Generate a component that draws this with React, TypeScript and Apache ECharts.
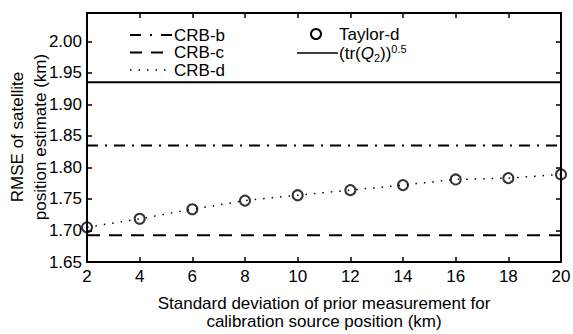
import React, { useEffect, useRef } from "react";
import * as echarts from "echarts";

const xValues = [2, 4, 6, 8, 10, 12, 14, 16, 18, 20];
const taylorD = [1.705, 1.7186, 1.7337, 1.7474, 1.756, 1.764, 1.772, 1.781, 1.783, 1.789];
const crbD = [1.705, 1.7186, 1.7337, 1.7474, 1.756, 1.764, 1.772, 1.781, 1.783, 1.789];
const crbB = 1.835;
const crbC = 1.6925;
const trQ2 = 1.935;

const FONT = "Liberation Sans, Arial, sans-serif";
const FS = 17;

export default function App() {
  const ref = useRef<HTMLDivElement>(null);
  useEffect(() => {
    const chart = echarts.init(ref.current!, null, { renderer: "svg" });
    const x0 = xValues[0];
    const x1 = xValues[xValues.length - 1];
    const flat = (v: number) => [[x0, v], [x1, v]];
    const black = "#000";
    const axisCommon = {
      axisLine: { show: true, lineStyle: { color: black, width: 2 } },
      axisTick: { show: true, inside: true, length: 5, lineStyle: { color: black, width: 1.5 } },
      splitLine: { show: false },
    };
    const legendText = (x: number, y: number, text: string) => ({
      type: "text",
      x,
      y,
      style: { text, font: `${FS}px ${FONT}`, lineHeight: 17, fill: black, textVerticalAlign: "middle" },
    });
    chart.setOption({
      animation: false,
      backgroundColor: "#fff",
      grid: { left: 87, right: 12, top: 13, bottom: 72, outerBoundsMode: "none", containLabel: false },
      xAxis: [
        {
          type: "value",
          min: 2,
          max: 20,
          interval: 2,
          ...axisCommon,
          axisLabel: { color: black, fontSize: FS, fontFamily: FONT, margin: 6 },
          name: "Standard deviation of prior measurement for\ncalibration source position (km)",
          nameLocation: "middle",
          nameGap: 32,
          nameTextStyle: { color: black, fontSize: FS, fontFamily: FONT, lineHeight: 18 },
        },
        {
          type: "value",
          position: "top",
          min: 2,
          max: 20,
          interval: 2,
          ...axisCommon,
          axisLabel: { show: false },
        },
      ],
      yAxis: [
        {
          type: "value",
          min: 1.65,
          max: 2.045,
          interval: 0.05,
          ...axisCommon,
          axisLabel: {
            color: black,
            fontSize: FS,
            fontFamily: FONT,
            margin: 5,
            showMaxLabel: false,
            formatter: (v: number) => v.toFixed(2),
          },
        },
        {
          type: "value",
          position: "right",
          min: 1.65,
          max: 2.045,
          interval: 0.05,
          ...axisCommon,
          axisLabel: { show: false },
        },
      ],
      series: [
        {
          type: "line",
          name: "CRB-b",
          data: flat(crbB),
          symbol: "none",
          lineStyle: { color: black, width: 2, type: [11, 7, 2, 7] },
        },
        {
          type: "line",
          name: "CRB-c",
          data: flat(crbC),
          symbol: "none",
          lineStyle: { color: black, width: 2, type: [13, 9] },
        },
        {
          type: "line",
          name: "CRB-d",
          data: xValues.map((x, i) => [x, crbD[i]]),
          symbol: "none",
          lineStyle: { color: black, width: 1.5, type: [1.5, 7] },
        },
        {
          type: "line",
          name: "(tr(Q2))^0.5",
          data: flat(trQ2),
          symbol: "none",
          lineStyle: { color: black, width: 2, type: "solid" },
        },
        {
          type: "scatter",
          name: "Taylor-d",
          data: xValues.map((x, i) => [x, taylorD[i]]),
          symbol: "circle",
          symbolSize: 10,
          itemStyle: { color: "transparent", borderColor: black, borderWidth: 2 },
          z: 5,
        },
      ],
      graphic: [
        {
          type: "text",
          x: 29,
          y: 137,
          rotation: Math.PI / 2,
          style: {
            text: "RMSE of satellite\nposition estimate (km)",
            font: `${FS}px ${FONT}`,
            lineHeight: 23,
            fill: black,
            textAlign: "center",
            textVerticalAlign: "middle",
          },
        },
        { type: "line", shape: { x1: 130, y1: 35, x2: 172, y2: 35 }, style: { stroke: black, lineWidth: 2, lineDash: [11, 9, 2, 9] } },
        legendText(174, 35, "CRB-b"),
        { type: "line", shape: { x1: 130, y1: 52.5, x2: 172, y2: 52.5 }, style: { stroke: black, lineWidth: 2, lineDash: [12, 9] } },
        legendText(174, 52.5, "CRB-c"),
        { type: "line", shape: { x1: 130, y1: 70, x2: 172, y2: 70 }, style: { stroke: black, lineWidth: 1.5, lineDash: [1.5, 7] } },
        legendText(174, 70, "CRB-d"),
        { type: "circle", shape: { cx: 316, cy: 34, r: 5 }, style: { fill: "none", stroke: black, lineWidth: 2 } },
        legendText(339, 34, "Taylor-d"),
        { type: "line", shape: { x1: 297, y1: 53, x2: 338, y2: 53 }, style: { stroke: black, lineWidth: 1.5 } },
        {
          type: "text",
          x: 339,
          y: 53,
          style: {
            text: "(tr({i|Q}{sub|2}))^{sup|0.5}".replace("^", ""),
            rich: {
              i: { font: `italic ${FS}px ${FONT}`, fill: black },
              sub: { font: `11px ${FONT}`, fill: black, verticalAlign: "bottom", padding: [7, 0, 0, 0] },
              sup: { font: `11px ${FONT}`, fill: black, verticalAlign: "top", padding: [0, 0, 9, 0] },
            },
            font: `${FS}px ${FONT}`,
            fill: black,
            textVerticalAlign: "middle",
          },
        },
      ],
    });
    return () => chart.dispose();
  }, []);
  return <div ref={ref} style={{ width: 573, height: 334, position: "absolute", left: 0, top: 0 }} />;
}
